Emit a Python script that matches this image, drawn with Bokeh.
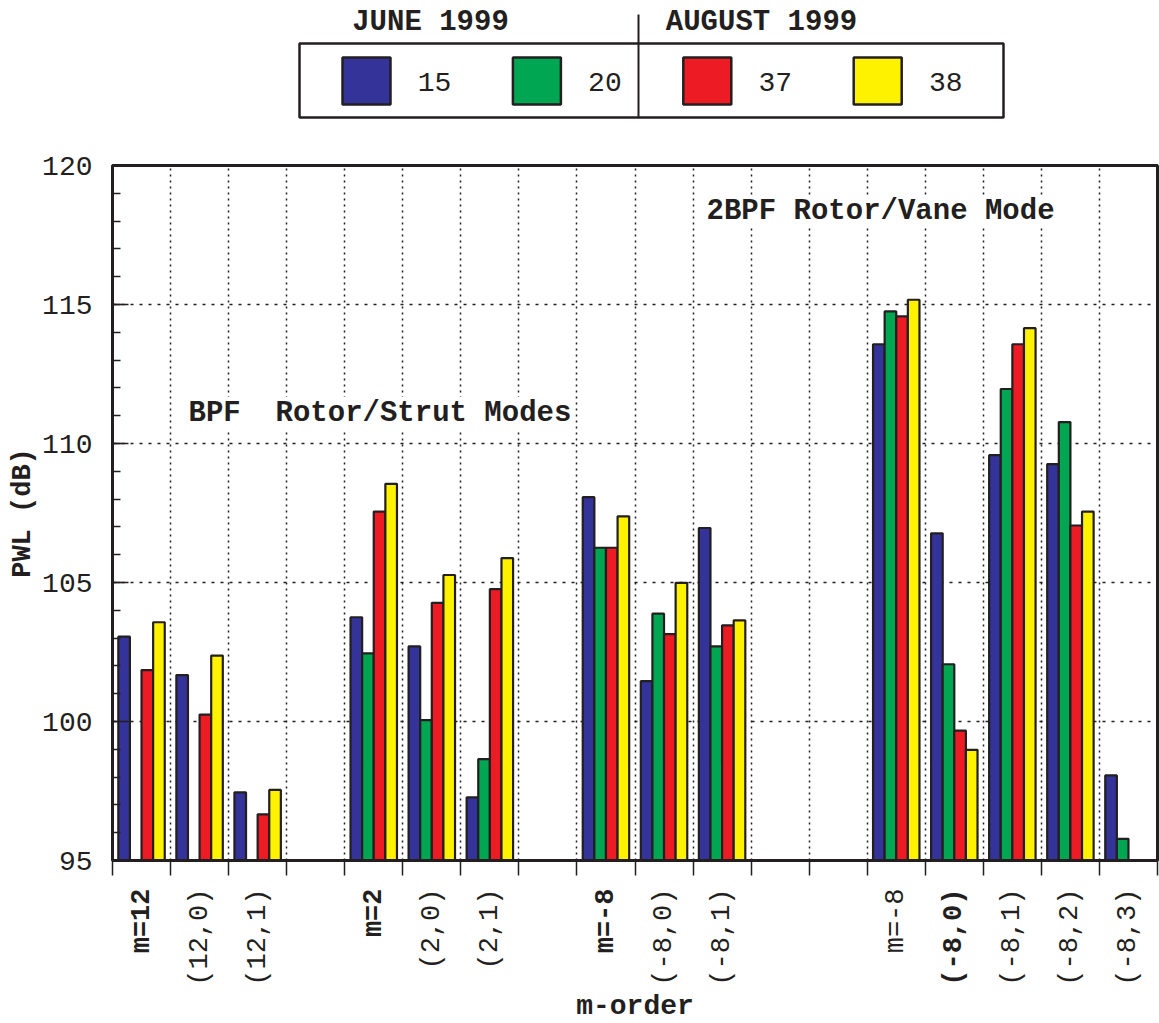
import numpy as np
from bokeh.plotting import figure
from bokeh.models import ColumnDataSource, Range1d, FixedTicker, Label
from bokeh.layouts import column
from bokeh.embed import file_html
from bokeh.resources import INLINE
from bokeh.core.properties import value

# ---------------- data ----------------
categories = ["m=12", "(12,0)", "(12,1)", "",
              "m=2", "(2,0)", "(2,1)", "",
              "m=-8", "(-8,0)", "(-8,1)", "", "",
              "m=-8", "(-8,0)", "(-8,1)", "(-8,2)", "(-8,3)"]
bold_labels = [1, 0, 0, 0,
               1, 0, 0, 0,
               1, 0, 0, 0, 0,
               0, 1, 0, 0, 0]

series_names = ["15", "20", "37", "38"]
legend_groups = ["JUNE 1999", "AUGUST 1999"]

pwl_15 = [103.05, 101.67, 97.45, None, 103.75, 102.70, 97.27, None,
          108.07, 101.45, 106.96, None, None,
          113.57, 106.77, 109.58, 109.26, 98.06]
pwl_20 = [None, None, None, None, 102.45, 100.05, 98.65, None,
          106.25, 103.88, 102.70, None, None,
          114.75, 102.06, 111.96, 110.77, 95.78]
pwl_37 = [101.85, 100.25, 96.66, None, 107.55, 104.27, 104.76, None,
          106.25, 103.14, 103.46, None, None,
          114.57, 99.67, 113.57, 107.05, None]
pwl_38 = [103.57, 102.37, 97.54, None, 108.55, 105.27, 105.88, None,
          107.38, 104.99, 103.64, None, None,
          115.17, 98.98, 114.15, 107.55, None]

y_major_ticks = [95, 100, 105, 110, 115, 120]
annotation_texts = ["BPF\u00a0 Rotor/Strut Modes", "2BPF Rotor/Vane Mode"]
x_title = "m-order"
y_title = "PWL (dB)"

# ---------------- styles / layout ----------------
FONT = "Liberation Mono"
INK = "#231f20"
COLORS = ["#333399", "#00a651", "#ed1c24", "#fff200"]
W = 1159
BL, BR = 112, 2            # left / right borders -> frame 112..1157
LEG_H = 130
FR_TOP, FR_BOT = 165, 860  # frame top / bottom (page px)
MAIN_BB = 28
MAIN_H = (FR_TOP - LEG_H) + (FR_BOT - FR_TOP) + MAIN_BB
STRIP_TOP = LEG_H + MAIN_H
STRIP_H = 1023 - STRIP_TOP
Y0, Y1 = 95, 120
N = len(categories)

# ---------------- legend figure (page pixel coordinates) ----------------
leg = figure(width=W, height=LEG_H, x_range=Range1d(BL, W - BR), y_range=Range1d(LEG_H, 0),
             output_backend="svg", toolbar_location=None, x_axis_location=None,
             y_axis_location=None, min_border_left=BL, min_border_right=BR,
             min_border_top=0, min_border_bottom=0, outline_line_color=None, title=None)
leg.grid.visible = False

sw_left = [342 + i * 170.4 for i in range(4)]
leg.quad(left=sw_left, right=[x + 48 for x in sw_left], top=57, bottom=104,
         fill_color=COLORS, line_color=INK, line_width=2.5)
leg.text(x=[x + 92 for x in sw_left], y=[81] * 4, text=series_names,
         text_font=value(FONT), text_font_size="28px", text_color=INK,
         text_align="center", text_baseline="middle")
leg.quad(left=[299], right=[1003], top=[43], bottom=[117], fill_color=None,
         line_color=INK, line_width=2.5)
leg.segment(x0=[638], y0=[14], x1=[638], y1=[117], line_color=INK, line_width=2)
leg.text(x=[430, 761], y=[22, 22], text=legend_groups, text_font=value(FONT),
         text_font_size="29px", text_font_style="bold", text_color=INK,
         text_align="center", text_baseline="middle")

# ---------------- main figure ----------------
p = figure(width=W, height=MAIN_H, x_range=Range1d(0, N), y_range=Range1d(Y0, Y1),
           output_backend="svg", toolbar_location=None, title=None,
           min_border_left=BL, min_border_right=BR, min_border_top=FR_TOP - LEG_H,
           min_border_bottom=MAIN_BB)
p.outline_line_color = INK
p.outline_line_width = 3
p.background_fill_color = "white"

# grids
p.xgrid.ticker = FixedTicker(ticks=list(range(1, N)))
p.xgrid.grid_line_color = INK
p.xgrid.grid_line_dash = "2 4"
p.xgrid.grid_line_width = 1.5
p.ygrid.ticker = FixedTicker(ticks=y_major_ticks[1:-1])
p.ygrid.grid_line_color = INK
p.ygrid.grid_line_dash = "3 6"
p.ygrid.grid_line_width = 1.5

# y axis
yax = p.yaxis[0]
yax.ticker = FixedTicker(ticks=y_major_ticks, minor_ticks=list(range(Y0, Y1 + 1)))
yax.axis_line_width = 3
yax.axis_line_color = INK
yax.major_tick_in = 16
yax.major_tick_out = 0
yax.minor_tick_in = 8
yax.minor_tick_out = 0
yax.major_tick_line_width = 1.5
yax.minor_tick_line_width = 1.5
yax.major_tick_line_color = INK
yax.minor_tick_line_color = INK
yax.major_label_standoff = 20
yax.major_label_text_font = FONT
yax.major_label_text_font_size = "28px"
yax.major_label_text_color = INK
yax.axis_label = y_title
yax.axis_label_text_font = FONT
yax.axis_label_text_font_size = "27px"
yax.axis_label_text_font_style = "bold"
yax.axis_label_text_color = INK
yax.axis_label_standoff = 1

# x axis (ticks at slot boundaries; labels drawn in the strip below)
xax = p.xaxis[0]
xax.ticker = FixedTicker(ticks=list(range(N + 1)))
xax.major_label_overrides = {i: "" for i in range(N + 1)}
xax.major_label_text_font_size = "1px"
xax.major_label_standoff = 0
xax.axis_line_width = 3
xax.axis_line_color = INK
xax.major_tick_in = 0
xax.major_tick_out = 15
xax.major_tick_line_width = 1.5
xax.major_tick_line_color = INK
xax.minor_tick_line_color = None

# bars
offsets = [-0.3, -0.1, 0.1, 0.3]
for vals, color, off in zip([pwl_15, pwl_20, pwl_37, pwl_38], COLORS, offsets):
    idx = [i for i, v in enumerate(vals) if v is not None]
    src = ColumnDataSource(dict(x=[i + 0.5 + off for i in idx], top=[vals[i] for i in idx]))
    p.vbar(x="x", top="top", bottom=Y0, width=0.2, source=src,
           fill_color=color, line_color=INK, line_width=2.2)

# in-plot annotations
px_per_y = (FR_BOT - FR_TOP) / (Y1 - Y0)
px_per_x = (W - BR - BL) / N
p.add_layout(Label(x=(188 - BL) / px_per_x, y=Y0 + (FR_BOT - 413) / px_per_y,
                   text=annotation_texts[0], text_font=FONT, text_font_size="29px",
                   text_font_style="bold", text_color=INK, text_align="left",
                   text_baseline="middle", background_fill_color="white"))
p.add_layout(Label(x=(706 - BL) / px_per_x, y=Y0 + (FR_BOT - 211) / px_per_y,
                   text=annotation_texts[1], text_font=FONT, text_font_size="29px",
                   text_font_style="bold", text_color=INK, text_align="left",
                   text_baseline="middle", background_fill_color="white"))

# ---------------- label strip below the axis ----------------
strip = figure(width=W, height=STRIP_H, x_range=p.x_range,
               y_range=Range1d(STRIP_TOP + STRIP_H, STRIP_TOP),
               output_backend="svg", toolbar_location=None, x_axis_location=None,
               y_axis_location=None, min_border_left=BL, min_border_right=BR,
               min_border_top=0, min_border_bottom=0, outline_line_color=None, title=None)
strip.grid.visible = False

for flag, style in [(0, "normal"), (1, "bold")]:
    idx = [i for i, c in enumerate(categories) if c and bold_labels[i] == flag]
    strip.text(x=[i + 0.5 for i in idx], y=[888] * len(idx),
               text=[categories[i] for i in idx], angle=np.pi / 2,
               text_align="right", text_baseline="middle",
               text_font=value(FONT), text_font_size="27px",
               text_font_style=style, text_color=INK)
strip.text(x=[N / 2], y=[1006], text=[x_title], text_font=value(FONT),
           text_font_size="28px", text_font_style="bold", text_color=INK,
           text_align="center", text_baseline="middle")

layout = column(leg, p, strip, spacing=0)
open("out.html", "w").write(file_html(layout, INLINE))
